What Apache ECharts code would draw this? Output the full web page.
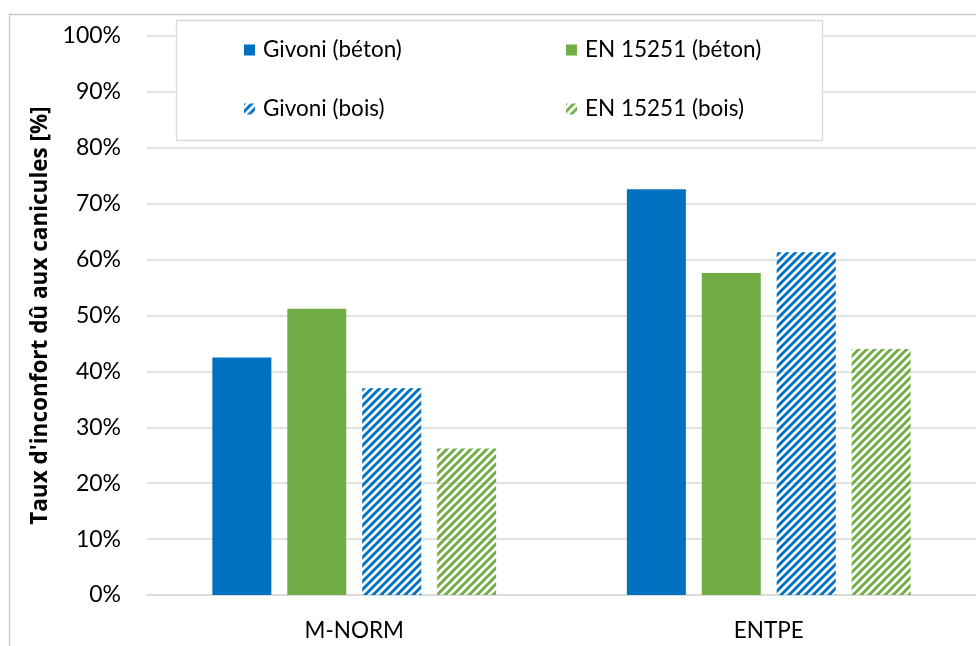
<!DOCTYPE html>
<html>
<head>
<meta charset="utf-8">
<script src="https://cdn.jsdelivr.net/npm/echarts@6/dist/echarts.min.js"></script>
<style>
  html, body { margin: 0; padding: 0; background: #fff; }
  #chart { width: 976px; height: 646px; }
</style>
</head>
<body>
<div id="chart"></div>
<script>
// Sites compared
const categories = ['M-NORM', 'ENTPE'];

// Share of discomfort hours during heat waves [%]
const givoniBeton = [42.5, 72.6];
const en15251Beton = [51.2, 57.6];
const givoniBois = [37.0, 61.3];
const en15251Bois = [26.2, 44.0];

const seriesNames = ['Givoni (béton)', 'EN 15251 (béton)', 'Givoni (bois)', 'EN 15251 (bois)'];

const BLUE = '#0070C0';
const GREEN = '#70AD47';
const FONT = 'Lato';
const TITLE_FONT = 'Open Sans';

// Small repeating tile of upward diagonals for the timber-frame variants
function hatch(color) {
  const c = document.createElement('canvas');
  c.width = 8; c.height = 8;
  const g = c.getContext('2d');
  g.strokeStyle = color;
  g.lineWidth = 2.9;
  g.lineCap = 'butt';
  g.beginPath();
  g.moveTo(-1, 9); g.lineTo(9, -1);
  g.moveTo(-4, 4); g.lineTo(4, -4);
  g.moveTo(4, 12); g.lineTo(12, 4);
  g.stroke();
  return { image: c, repeat: 'repeat' };
}

const chart = echarts.init(document.getElementById('chart'), null, { renderer: 'canvas' });

const legendPos = [
  { left: 244, top: 38 },
  { left: 566, top: 38 },
  { left: 244, top: 97 },
  { left: 566, top: 97 }
];

const seriesData = [givoniBeton, en15251Beton, givoniBois, en15251Bois];
const colors = [BLUE, GREEN, hatch(BLUE), hatch(GREEN)];

chart.setOption({
  animation: false,
  backgroundColor: '#fff',
  textStyle: { fontFamily: FONT },
  graphic: [
    {
      type: 'rect',
      shape: { x: 9.5, y: 14.5, width: 1200, height: 1200 },
      style: { fill: 'none', stroke: '#c8c8c8', lineWidth: 1.3 },
      z: -10
    },
    {
      type: 'rect',
      shape: { x: 176.5, y: 20.5, width: 646, height: 120 },
      style: { fill: '#fff', stroke: '#d9d9d9', lineWidth: 1.3 },
      z: 10
    }
  ],
  legend: seriesNames.map((n, i) => ({
    data: [n],
    left: legendPos[i].left,
    top: legendPos[i].top,
    padding: 0,
    itemWidth: 11,
    itemHeight: 11,
    icon: 'rect',
    selectedMode: false,
    z: 20,
    textStyle: {
      fontFamily: FONT,
      fontSize: 22.5,
      color: '#000',
      lineHeight: 24,
      padding: [0, 0, 0, 3]
    }
  })),
  grid: { left: 147, right: 0, top: 36, bottom: 51, containLabel: false },
  xAxis: {
    type: 'category',
    data: categories,
    axisLine: { lineStyle: { color: '#d9d9d9', width: 1.5 } },
    axisTick: { show: false },
    axisLabel: { fontFamily: FONT, fontSize: 22.5, color: '#000', margin: 24 }
  },
  yAxis: {
    type: 'value',
    min: 0,
    max: 100,
    interval: 10,
    name: "Taux d'inconfort dû aux canicules [%]",
    nameLocation: 'middle',
    nameGap: 89,
    nameTextStyle: { fontFamily: TITLE_FONT, fontSize: 22.5, fontWeight: 'bold', color: '#000' },
    axisLine: { show: false },
    axisTick: { show: false },
    axisLabel: { fontFamily: FONT, fontSize: 23, color: '#000', margin: 26, formatter: '{value}%' },
    splitLine: { lineStyle: { color: '#d9d9d9', width: 1.5 } }
  },
  series: seriesNames.map((n, i) => ({
    name: n,
    type: 'bar',
    data: seriesData[i],
    barWidth: 59,
    barGap: '27%',
    itemStyle: { color: colors[i] }
  }))
});
</script>
</body>
</html>
